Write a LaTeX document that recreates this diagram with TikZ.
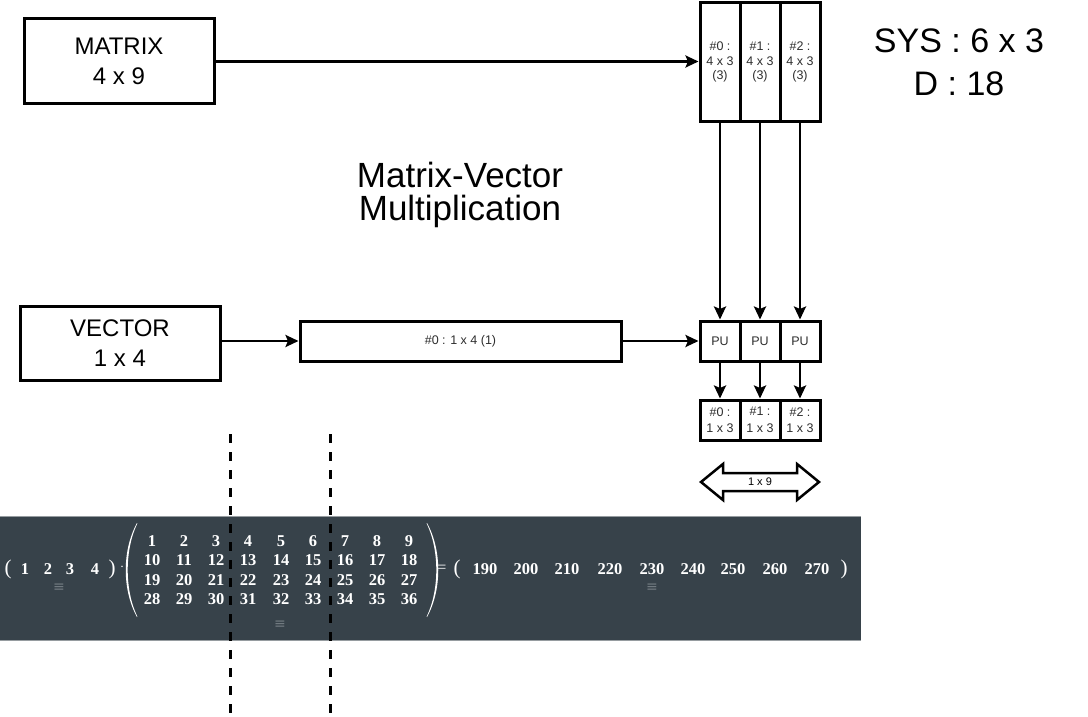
\documentclass[tikz,border=0pt]{standalone}
\usepackage{fontspec}
\setmainfont{Liberation Sans}
\newfontfamily\serifnum{Liberation Serif}
\newfontfamily\dejavu{DejaVu Sans}
\usetikzlibrary{arrows.meta}
\definecolor{band}{RGB}{55,66,74}
\definecolor{bandedge}{RGB}{150,156,160}
\definecolor{txtgray}{RGB}{45,45,45}
\definecolor{eqgray}{RGB}{115,124,130}
\begin{document}
\begin{tikzpicture}[x=1pt,y=-1pt,
  box/.style={draw, line width=3pt, inner sep=0pt, align=center},
  conn/.style={line width=2.5pt, -{Stealth[length=13pt,width=12pt,inset=2.5pt]}},
  small/.style={font=\fontsize{12.5}{13.5}\selectfont, text=txtgray},
  colbox/.style={box, font=\fontsize{12.5}{14.5}\selectfont, text=txtgray, minimum width=40pt, minimum height=119pt},
  resbox/.style={box, font=\fontsize{12.5}{16.5}\selectfont, text=txtgray, minimum width=40pt, minimum height=40pt},
  big/.style={font=\fontsize{24}{30}\selectfont},
  num/.style={text=white, font=\serifnum\bfseries\fontsize{16.5}{17}\selectfont, inner sep=0pt},
  paren/.style={text=white, font=\serifnum\fontsize{21}{21}\selectfont, inner sep=0pt},
  eqv/.style={text=eqgray, font=\dejavu\fontsize{14}{14}\selectfont, inner sep=0pt},
  cut/.style={line width=3pt, dash pattern=on 9pt off 9pt}
]
\useasboundingbox (0,0) rectangle (1088,717);

% top part
\node[box, big, minimum width=190pt, minimum height=85pt] (matrix) at (119,61.5) {MATRIX\\4 x 9};
\node[colbox] (c0) at (720,62) {\#0 :\\4 x 3\\(3)};
\node[colbox] (c1) at (760,62) {\#1 :\\4 x 3\\(3)};
\node[colbox] (c2) at (800,62) {\#2 :\\4 x 3\\(3)};

\node[font=\fontsize{34}{43}\selectfont, align=center, inner sep=0pt] (sys) at (959,62.5) {SYS : 6 x 3\\D : 18};
\node[font=\fontsize{35}{33}\selectfont, align=center, inner sep=0pt] (title) at (460,194.5) {Matrix-Vector\\Multiplication};

% vector row
\node[box, big, minimum width=200pt, minimum height=74pt] (vector) at (120,343) {VECTOR\\1 x 4};
\node[box, small, minimum width=321pt, minimum height=40pt] (long) at (460.5,341) {\#0 : 1 x 4 (1)};
\node[box, small, minimum width=40pt, minimum height=40pt] (pu0) at (720,341) {PU};
\node[box, small, minimum width=40pt, minimum height=40pt] (pu1) at (760,341) {PU};
\node[box, small, minimum width=40pt, minimum height=40pt] (pu2) at (800,341) {PU};
\node[resbox] (r0) at (720,420) {\#0 :\\1 x 3};
\node[resbox] (r1) at (760,420) {\#1 :\\1 x 3};
\node[resbox] (r2) at (800,420) {\#2 :\\1 x 3};

% connectors
\draw[conn] (matrix.east) -- (c0.west |- matrix.east);
\draw[conn] (c0.south) -- (pu0.north);
\draw[conn] (c1.south) -- (pu1.north);
\draw[conn] (c2.south) -- (pu2.north);
\draw[conn] (vector.east |- long.west) -- (long.west);
\draw[conn] (long.east) -- (pu0.west);
\draw[conn] (pu0.south) -- (r0.north);
\draw[conn] (pu1.south) -- (r1.north);
\draw[conn] (pu2.south) -- (r2.north);

% double arrow 1 x 9
\draw[line width=2.5pt, fill=white, line join=miter]
  (701,482) -- (723,464) -- (723,473) -- (797,473) -- (797,464) -- (819,482)
  -- (797,500) -- (797,491) -- (723,491) -- (723,500) -- cycle;
\node[fill=white, inner sep=0.5pt, font=\fontsize{11}{12}\selectfont] (dim) at (760,482) {1 x 9};

% math band
\fill[band] (0,516) rectangle (861,641);
\draw[bandedge, line width=1pt] (0,516.5) -- (861,516.5);
\draw[bandedge, line width=1pt] (0,640.5) -- (861,640.5);

% vector
\node[paren] (vl) at (8,569) {(};
\foreach \x [count=\i] in {25,48,70,95} { \node[num] (v\i) at (\x,569) {\i}; }
\node[paren] (vr) at (112,569) {)};
\node[text=white, inner sep=0pt, font=\fontsize{14}{14}\selectfont] (dot) at (122,567) {$\cdot$};
\node[eqv] (e1) at (59,588) {≡};

% matrix
\fill[white] (137,523) .. controls (122,550) and (122,590) .. (137,617)
  -- (137.3,616.5) .. controls (124.5,590) and (124.5,550) .. (137.3,523.5) -- cycle;
\fill[white] (427,523) .. controls (442,550) and (442,590) .. (427,617)
  -- (426.7,616.5) .. controls (439.5,590) and (439.5,550) .. (426.7,523.5) -- cycle;
\foreach \cx [count=\c from 0] in {152,184,216,248,281,313,345,377,409} {
  \foreach \ry [count=\r from 0] in {541,560,580,599} {
    \pgfmathtruncatemacro\v{\r*9+\c+1}
    \node[num] (m\r\c) at (\cx,\ry) {\v};
  }
}
\node[eqv] (e2) at (280,625) {≡};

% result
\node[text=white, inner sep=0pt, font=\serifnum\fontsize{16}{16}\selectfont] (eq) at (442,569) {=};
\node[paren] (rl) at (457,569) {(};
\foreach \cx [count=\i from 0] in {485,526,567,610,652,693,733,775,817} {
  \pgfmathtruncatemacro\v{190+10*\i}
  \node[num] (res\i) at (\cx,569) {\v};
}
\node[paren] (rr) at (844,569) {)};
\node[eqv] (e3) at (652,588) {≡};

% cut lines
\coordinate (d1t) at (230.5,434);
\coordinate (d1b) at (230.5,717);
\coordinate (d2t) at (330.5,434);
\coordinate (d2b) at (330.5,717);
\draw[cut] (d1t) -- (d1b);
\draw[cut] (d2t) -- (d2b);
\end{tikzpicture}
\end{document}
